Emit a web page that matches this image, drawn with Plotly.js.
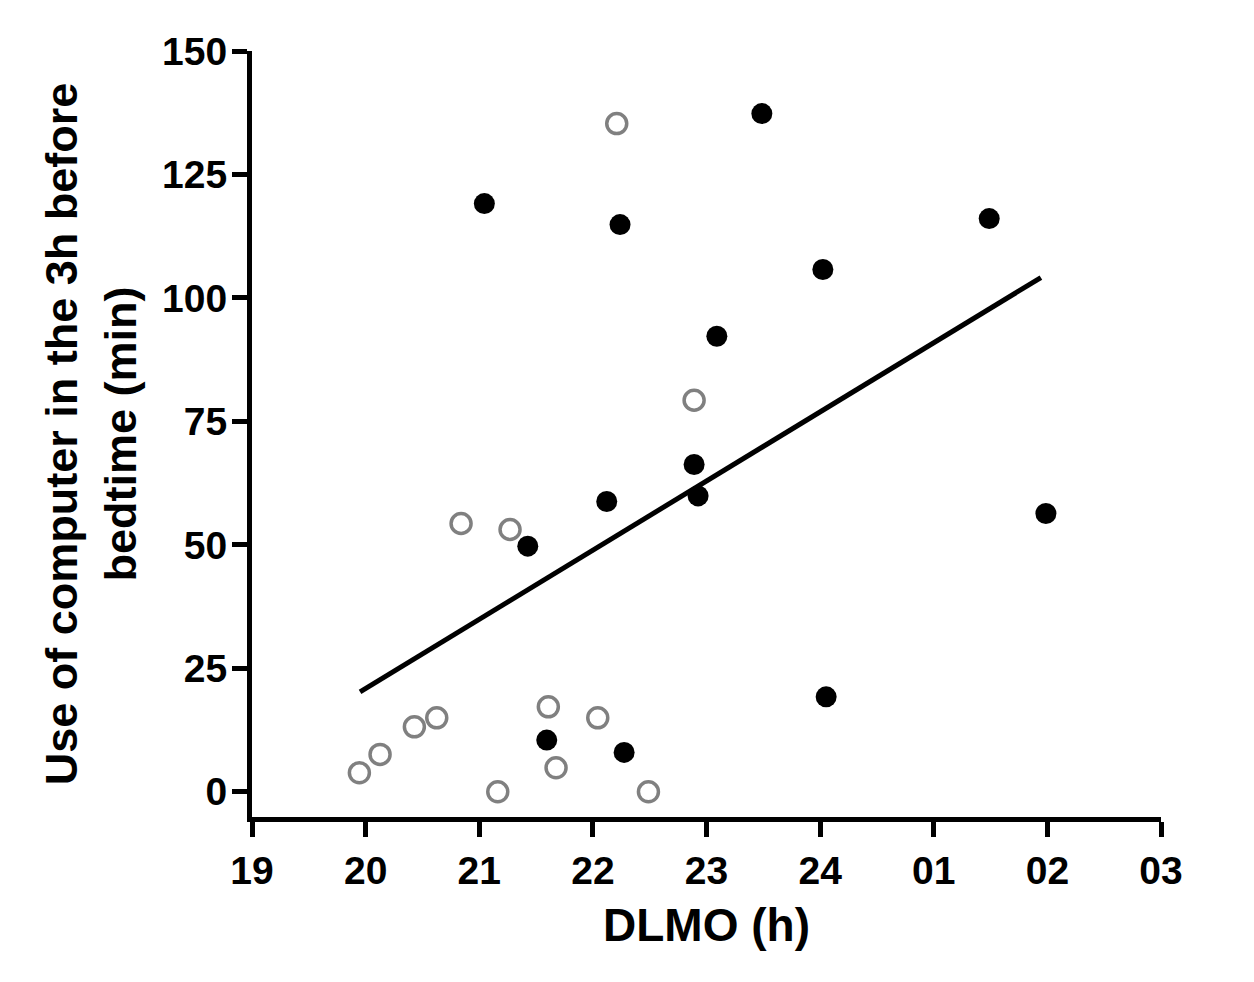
<!DOCTYPE html>
<html>
<head>
<meta charset="utf-8">
<script src="https://cdn.plot.ly/plotly-3.0.1.min.js"></script>
<style>
  html, body { margin: 0; padding: 0; background: #ffffff; }
  #chart { width: 1254px; height: 982px; }
</style>
</head>
<body>
<div id="chart"></div>
<script>
// DLMO (h, continuous: 24 = midnight, 25 = 01, ...) and computer use (min)
const openX = [19.945, 20.127, 20.429, 20.626, 20.84, 21.271, 21.163, 21.608, 21.676, 22.043, 22.21, 22.489, 22.891];
const openY = [3.85, 7.57, 13.16, 14.98, 54.33, 53.12, 0, 17.21, 4.86, 14.98, 135.3, 0, 79.29];

const filledX = [21.045, 21.427, 21.594, 22.122, 22.239, 22.275, 22.891, 22.926, 23.091, 23.487, 24.024, 24.053, 25.488, 25.987];
const filledY = [119.1, 49.74, 10.47, 58.79, 114.86, 7.98, 66.28, 59.92, 92.25, 137.33, 105.75, 19.23, 116.07, 56.36];

const fitX = [19.951, 25.943];
const fitY = [20.24, 104.13];

const xTickVals = [19, 20, 21, 22, 23, 24, 25, 26, 27];
const xTickText = ["19", "20", "21", "22", "23", "24", "01", "02", "03"];
const yTickVals = [0, 25, 50, 75, 100, 125, 150];

const FONT = "Liberation Sans, Arial, sans-serif";

const traces = [
  {
    x: fitX, y: fitY, type: "scatter", mode: "lines",
    line: { color: "#000000", width: 5 },
    hoverinfo: "skip", showlegend: false
  },
  {
    x: openX, y: openY, type: "scatter", mode: "markers",
    marker: { symbol: "circle-open", size: 20, color: "#808080", line: { color: "#808080", width: 3.5 } },
    showlegend: false
  },
  {
    x: filledX, y: filledY, type: "scatter", mode: "markers",
    marker: { symbol: "circle", size: 21, color: "#000000", line: { width: 0 } },
    showlegend: false
  }
];

const layout = {
  width: 1254, height: 982,
  paper_bgcolor: "#ffffff", plot_bgcolor: "#ffffff",
  margin: { l: 252, r: 93, t: 51, b: 165 },
  showlegend: false,
  font: { family: FONT, color: "#000000" },
  xaxis: {
    range: [19, 27],
    tickmode: "array", tickvals: xTickVals, ticktext: xTickText,
    ticks: "outside", ticklen: 15, tickwidth: 5, tickcolor: "#000000",
    showline: true, linewidth: 5, linecolor: "#000000",
    showgrid: false, zeroline: false,
    tickfont: { family: FONT, size: 39, weight: "bold", color: "#000000" },
    title: { text: "DLMO (h)", font: { family: FONT, size: 46, weight: "bold", color: "#000000" }, standoff: 20 },
    automargin: false
  },
  yaxis: {
    range: [-5.1, 150],
    tickmode: "array", tickvals: yTickVals,
    ticks: "outside", ticklen: 15, tickwidth: 5, tickcolor: "#000000",
    showline: true, linewidth: 5, linecolor: "#000000",
    showgrid: false, zeroline: false,
    ticklabelstandoff: -3,
    tickfont: { family: FONT, size: 39, weight: "bold", color: "#000000" },
    title: { text: "Use of computer in the 3h before<br>bedtime (min)", font: { family: FONT, size: 45, weight: "bold", color: "#000000" }, standoff: 13 },
    automargin: false
  }
};

Plotly.newPlot("chart", traces, layout, { displayModeBar: false, staticPlot: true });
</script>
</body>
</html>
